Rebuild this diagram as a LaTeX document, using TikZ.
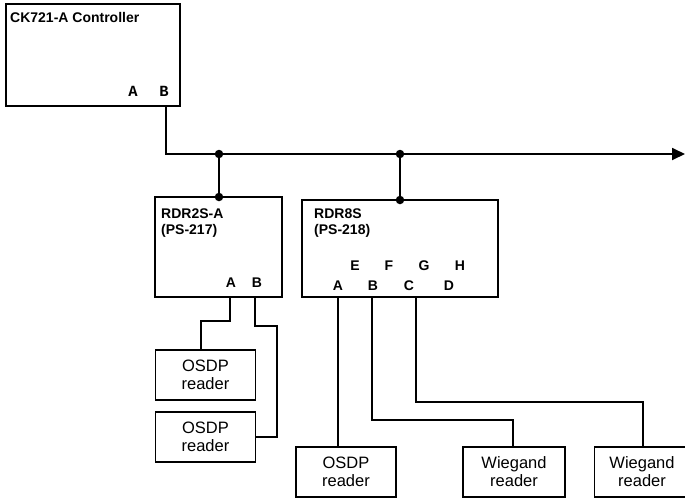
\documentclass[tikz,border=0pt]{standalone}
\usepackage{fontspec}
\setmainfont{Liberation Sans}
\newfontfamily\cour{Liberation Mono}
\usetikzlibrary{arrows.meta}
\tikzset{
  box/.style={draw, line width=1.8pt, inner sep=0pt},
  wire/.style={line width=1.8pt},
  dot/.style={circle, fill, inner sep=0pt, minimum size=8.5pt},
  title/.style={font=\fontsize{14}{16}\selectfont\bfseries, anchor=base west, inner sep=0pt},
  port/.style={font=\fontsize{14}{14}\selectfont\bfseries, inner sep=0pt},
  cport/.style={font=\fontsize{15.5}{16}\selectfont\cour\bfseries, inner sep=0pt},
  reader/.style={box, minimum width=100pt, minimum height=50pt, align=center, font=\fontsize{16.5}{18}\selectfont}
}
\begin{document}
\begin{tikzpicture}[x=1pt,y=-1pt]
\useasboundingbox (0,0) rectangle (685,498);
\clip (0,0) rectangle (685,498);
% controller
\node[box, minimum width=174pt, minimum height=102pt] (ctl) at (93,55) {};
\node[title] (ctlt) at (10,22) {CK721-A Controller};
\node[cport] (ca) at (133,91) {A};
\node[cport] (cb) at (164,91) {B};
\coordinate (cbo) at (166,106);
\coordinate (bend) at (166,154);
\coordinate (bus) at (685,154);
\node[dot] (j1) at (219,154) {};
\node[dot] (j2) at (400,154) {};
% RDR2S-A
\node[box, minimum width=127pt, minimum height=100pt] (r2) at (218.5,247) {};
\node[title] (r2t) at (161,218) {RDR2S-A};
\node[title] (r2u) at (161,234) {(PS-217)};
\node[port] (r2a) at (231,283) {A};
\node[port] (r2b) at (257,283) {B};
\node[dot] (r2j) at (219,197) {};
% RDR8S
\node[box, minimum width=196pt, minimum height=97pt] (r8) at (400,248.5) {};
\node[title] (r8t) at (314,218) {RDR8S};
\node[title] (r8u) at (314,234) {(PS-218)};
\node[dot] (r8j) at (400,200) {};
\node[port] (e) at (355,266) {E};
\node[port] (f) at (389,266) {F};
\node[port] (g) at (424,266) {G};
\node[port] (h) at (460,266) {H};
\node[port] (pa) at (338,286) {A};
\node[port] (pb) at (373,286) {B};
\node[port] (pc) at (409,286) {C};
\node[port] (pd) at (449,286) {D};
% readers
\node[reader] (o1) at (205.5,375) {OSDP\\reader};
\node[reader] (o2) at (205.5,437) {OSDP\\reader};
\node[reader] (o3) at (346,472) {OSDP\\reader};
\node[reader, minimum width=102pt] (w1) at (514,472) {Wiegand\\reader};
\node[reader, minimum width=95pt] (w2) at (642,472) {Wiegand\\reader};
% wires
\draw[wire] (cbo) -- (bend) -- (j1) -- (j2);
\draw[wire, -{Triangle[length=13pt,width=12pt]}] (j2) -- (bus);
\draw[wire] (j1) -- (r2j);
\draw[wire] (j2) -- (r8j);
\draw[wire] (230,297) -- (230,321) -- (201,321) -- (o1.north -| 201,0);
\draw[wire] (255,297) -- (255,326) -- (277,326) -- (277,437) -- (o2.east);
\draw[wire] (338,297) -- (o3.north -| 338,0);
\draw[wire] (372,297) -- (372,420) -- (513,420) -- (w1.north -| 513,0);
\draw[wire] (416,297) -- (416,402) -- (643,402) -- (w2.north -| 643,0);
\end{tikzpicture}
\end{document}
